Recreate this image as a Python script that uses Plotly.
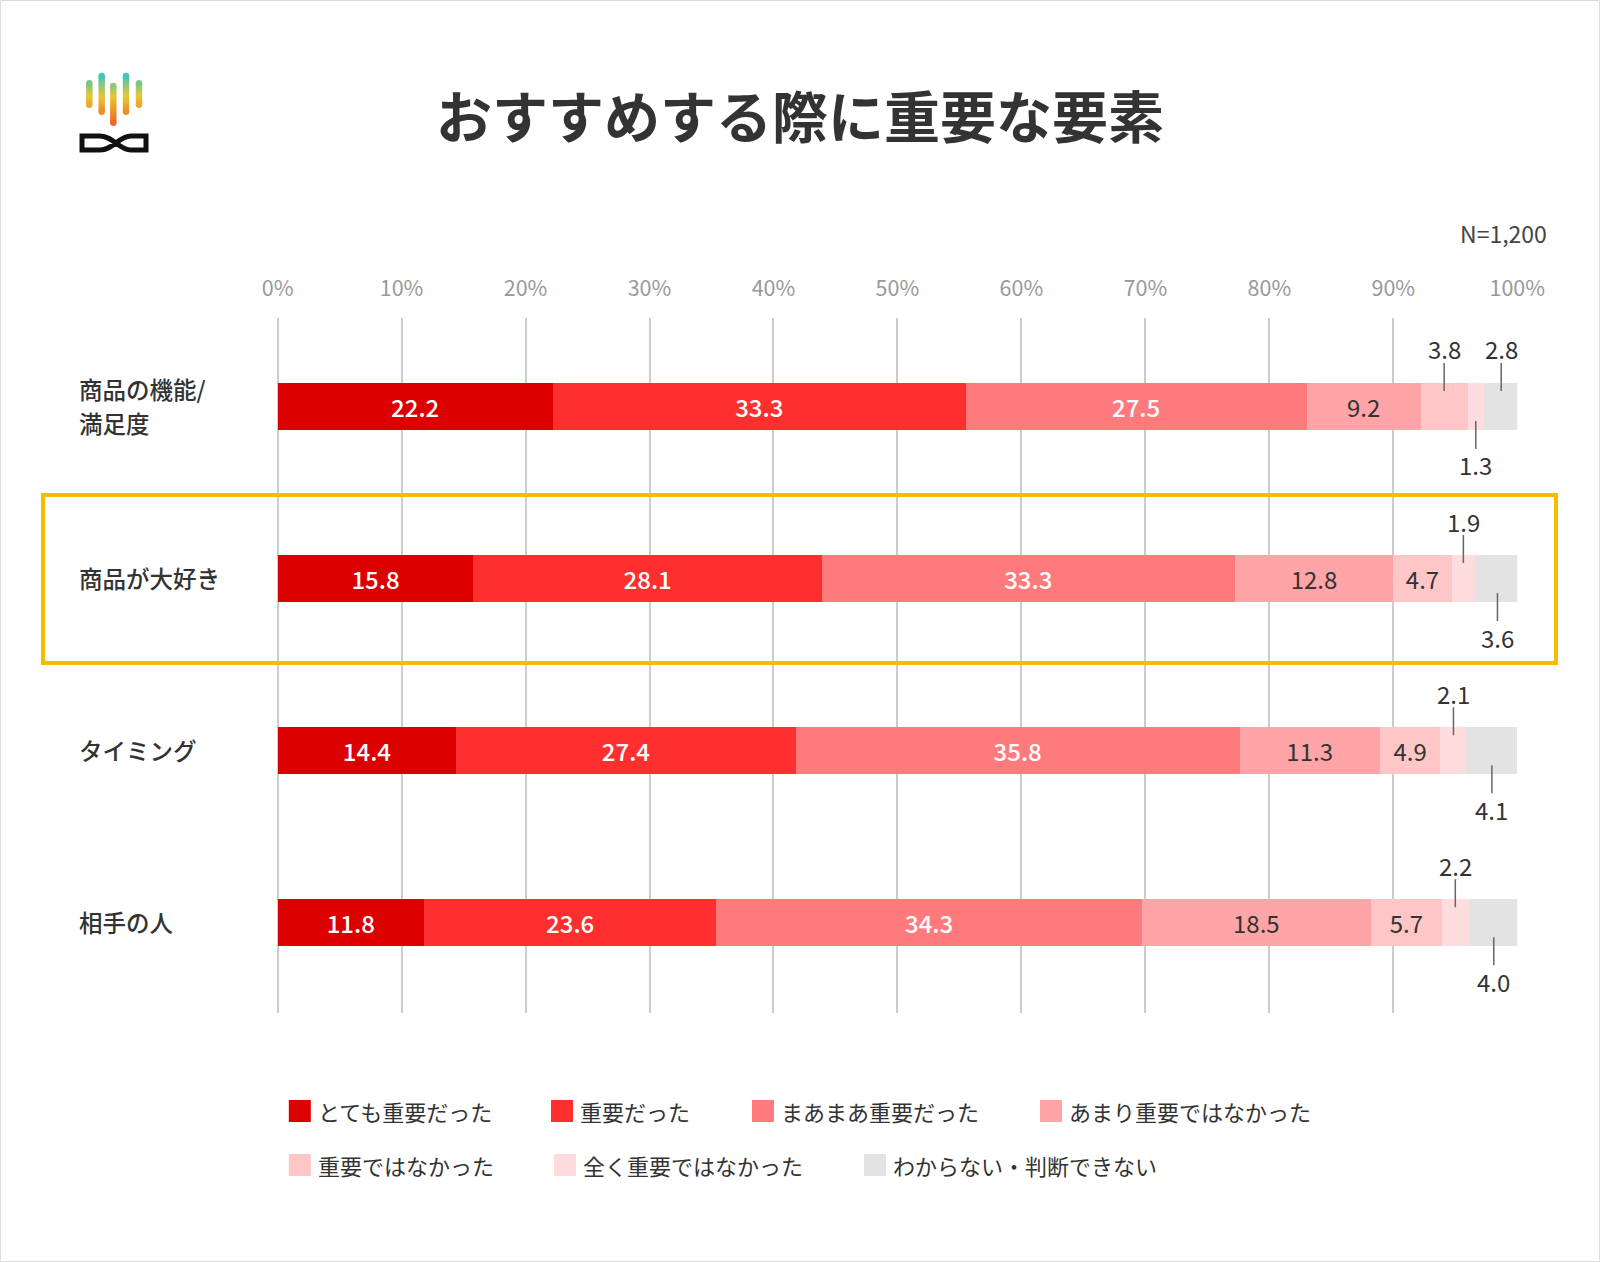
import plotly.graph_objects as go

# ---------------- data ----------------
categories = ["商品の機能/<br>満足度", "商品が大好き", "タイミング", "相手の人"]
series_names = ["とても重要だった", "重要だった", "まあまあ重要だった", "あまり重要ではなかった",
                "重要ではなかった", "全く重要ではなかった", "わからない・判断できない"]
very_important = [22.2, 15.8, 14.4, 11.8]
important = [33.3, 28.1, 27.4, 23.6]
somewhat_important = [27.5, 33.3, 35.8, 34.3]
not_very_important = [9.2, 12.8, 11.3, 18.5]
not_important = [3.8, 4.7, 4.9, 5.7]
not_at_all_important = [1.3, 1.9, 2.1, 2.2]
dont_know = [2.8, 3.6, 4.1, 4.0]
tick_values = [0, 10, 20, 30, 40, 50, 60, 70, 80, 90, 100]
tick_labels = ["0%", "10%", "20%", "30%", "40%", "50%", "60%", "70%", "80%", "90%", "100%"]
title_text = "おすすめする際に重要な要素"
n_text = "N=1,200"

series_values = [very_important, important, somewhat_important, not_very_important,
                 not_important, not_at_all_important, dont_know]

# ---------------- styles ----------------
colors = ["#DD0000", "#FF2F2F", "#FF7A7C", "#FFA5A7", "#FFC6C7", "#FFDCDD", "#E3E3E3"]
text_colors = ["#FFFFFF", "#FFFFFF", "#FFFFFF", "#333333", "#333333", "#333333", "#333333"]
FONT = "Noto Sans CJK JP"
W, H = 1600, 1262
X0, X1 = 277.6, 1517.3
Y0, Y1 = 318, 1013
ROW_PX = 172.1                     # pixel pitch between category rows
TOP_PAD = 406 - Y0                 # first row centre below plot top
Y_RANGE = [(Y1 - Y0 - TOP_PAD) / ROW_PX, -TOP_PAD / ROW_PX]
INSIDE_MIN = 4.5


def px(x):
    return x / W


def py(y):
    return 1 - y / H


fig = go.Figure()

for name, vals, col, tcol in zip(series_names, series_values, colors, text_colors):
    fig.add_trace(go.Bar(
        name=name, y=categories, x=vals, orientation="h",
        marker=dict(color=col, line=dict(width=0)),
        width=47 / ROW_PX,
        text=[f"{v:.1f}" if v >= INSIDE_MIN else "" for v in vals],
        textposition="inside", insidetextanchor="middle", textangle=0,
        constraintext="none",
        insidetextfont=dict(family=FONT, size=24, color=tcol,
                            weight=500 if tcol == "#FFFFFF" else 400),
        hoverinfo="skip", showlegend=False,
    ))

annotations = []
shapes = []

# small value labels with leader lines
for i, cat in enumerate(categories):
    cum = 0.0
    above = True
    for vals in series_values:
        v = vals[i]
        center = cum + v / 2
        cum += v
        if v >= INSIDE_MIN:
            continue
        if above:
            annotations.append(dict(x=center, y=cat, xref="x", yref="y", text=f"{v:.1f}",
                                    showarrow=False, yshift=57,
                                    font=dict(family=FONT, size=24, color="#333333")))
            shapes.append(dict(type="line", xref="x", yref="y", x0=center, x1=center,
                               y0=i - 43 / ROW_PX, y1=i - 15 / ROW_PX,
                               line=dict(color="#666666", width=1.5)))
        else:
            annotations.append(dict(x=center, y=cat, xref="x", yref="y", text=f"{v:.1f}",
                                    showarrow=False, yshift=-59,
                                    font=dict(family=FONT, size=24, color="#333333")))
            shapes.append(dict(type="line", xref="x", yref="y", x0=center, x1=center,
                               y0=i + 15 / ROW_PX, y1=i + 43 / ROW_PX,
                               line=dict(color="#666666", width=1.5)))
        above = not above

# category labels (each line placed separately for a 34px line pitch)
LINE_PX = 34
for cat in categories:
    lines = cat.split("<br>")
    n = len(lines)
    for k, line in enumerate(lines):
        shift = ((n - 1) / 2 - k) * LINE_PX
        annotations.append(dict(x=px(77), y=cat, xref="paper", yref="y", text=line,
                                xanchor="left", yanchor="middle", align="left",
                                showarrow=False, yshift=shift,
                                font=dict(family=FONT, size=23.5, color="#333333", weight=500)))

# title and N
annotations.append(dict(x=px(800), y=py(113), xref="paper", yref="paper", text=title_text,
                        xanchor="center", yanchor="middle", showarrow=False,
                        font=dict(family=FONT, size=56, color="#333333", weight="bold")))
annotations.append(dict(x=px(1549), y=py(233), xref="paper", yref="paper", text=n_text,
                        xanchor="right", yanchor="middle", showarrow=False,
                        font=dict(family=FONT, size=23, color="#444444")))

# legend (manual)
legend_pos = [(288.8, 1111), (551, 1111), (752, 1111), (1040, 1111),
              (288.8, 1165), (554, 1165), (864, 1165)]
for (lx, ly), name, col in zip(legend_pos, series_names, colors):
    shapes.append(dict(type="rect", xref="paper", yref="paper",
                       x0=px(lx), x1=px(lx + 22), y0=py(ly - 11), y1=py(ly + 11),
                       fillcolor=col, line=dict(width=0)))
    annotations.append(dict(x=px(lx + 27), y=py(ly), xref="paper", yref="paper", text=name,
                            xanchor="left", yanchor="middle", showarrow=False,
                            font=dict(family=FONT, size=22, color="#333333")))

# highlight box
shapes.append(dict(type="rect", xref="paper", yref="paper",
                   x0=px(43), x1=px(1556), y0=py(495), y1=py(663),
                   line=dict(color="#F7BC00", width=4), fillcolor="rgba(0,0,0,0)"))

# outer border
shapes.append(dict(type="rect", xref="paper", yref="paper",
                   x0=px(0.5), x1=px(1599.5), y0=py(0.5), y1=py(1261.5),
                   line=dict(color="#DDDDDD", width=1), fillcolor="rgba(0,0,0,0)"))


# logo
def lerp_color(t):
    stops = [(0.0, (40, 196, 210)), (0.45, (230, 200, 50)), (1.0, (242, 90, 40))]
    for (t0, c0), (t1, c1) in zip(stops[:-1], stops[1:]):
        if t <= t1:
            f = (t - t0) / (t1 - t0)
            c = [round(a + (b - a) * f) for a, b in zip(c0, c1)]
            return f"rgb({c[0]},{c[1]},{c[2]})"
    c = stops[-1][1]
    return f"rgb({c[0]},{c[1]},{c[2]})"


logo_bars = [(89.3, 80, 108), (101.7, 72.7, 115), (113.3, 82.7, 126), (126, 72.7, 115), (139, 80, 108)]
LT, LB = 72.7, 126
for cx, top, bot in logo_bars:
    steps = 14
    hw = 3.2
    for k in range(steps):
        ya = top + hw + (bot - top - 2 * hw) * k / steps
        yb = top + hw + (bot - top - 2 * hw) * (k + 1) / steps
        col = lerp_color(((ya + yb) / 2 - LT) / (LB - LT))
        shapes.append(dict(type="rect", xref="paper", yref="paper",
                           x0=px(cx - hw), x1=px(cx + hw), y0=py(yb + 0.3), y1=py(ya - 0.3),
                           fillcolor=col, line=dict(width=0)))
    for yc in (top + hw, bot - hw):
        col = lerp_color((yc - LT) / (LB - LT))
        shapes.append(dict(type="circle", xref="paper", yref="paper",
                           x0=px(cx - hw), x1=px(cx + hw), y0=py(yc + hw), y1=py(yc - hw),
                           fillcolor=col, line=dict(width=0)))

path = (f"M {px(82)},{py(136)} L {px(100)},{py(136)} "
        f"C {px(113)},{py(136)} {px(119)},{py(150)} {px(131)},{py(150)} "
        f"L {px(146)},{py(150)} L {px(146)},{py(136)} L {px(131)},{py(136)} "
        f"C {px(119)},{py(136)} {px(113)},{py(150)} {px(100)},{py(150)} "
        f"L {px(82)},{py(150)} Z")
shapes.append(dict(type="path", xref="paper", yref="paper", path=path,
                   line=dict(color="#111111", width=5), fillcolor="rgba(0,0,0,0)"))

fig.update_layout(
    width=W, height=H, autosize=False,
    margin=dict(l=0, r=0, t=0, b=0, pad=0, autoexpand=False),
    paper_bgcolor="white", plot_bgcolor="white",
    barmode="stack", showlegend=False,
    font=dict(family=FONT),
    xaxis=dict(domain=[px(X0), px(X1)], range=[0, 100], side="top",
               tickvals=tick_values, ticktext=tick_labels,
               tickfont=dict(family=FONT, size=21.5, color="#999999"),
               ticklabelstandoff=17, ticks="", automargin=False,
               showgrid=True, gridcolor="#CCCCCC", gridwidth=1.5,
               zeroline=True, zerolinecolor="#CCCCCC", zerolinewidth=1.5,
               showline=False, fixedrange=True),
    yaxis=dict(domain=[py(Y1), py(Y0)], type="category", categoryorder="array",
               categoryarray=categories, range=Y_RANGE,
               showticklabels=False, showgrid=False, zeroline=False, showline=False,
               ticks="", fixedrange=True, automargin=False),
    annotations=annotations,
    shapes=shapes,
)

fig.write_html("out.html", config={"displayModeBar": False},
               post_script="document.body.style.margin='0';")
